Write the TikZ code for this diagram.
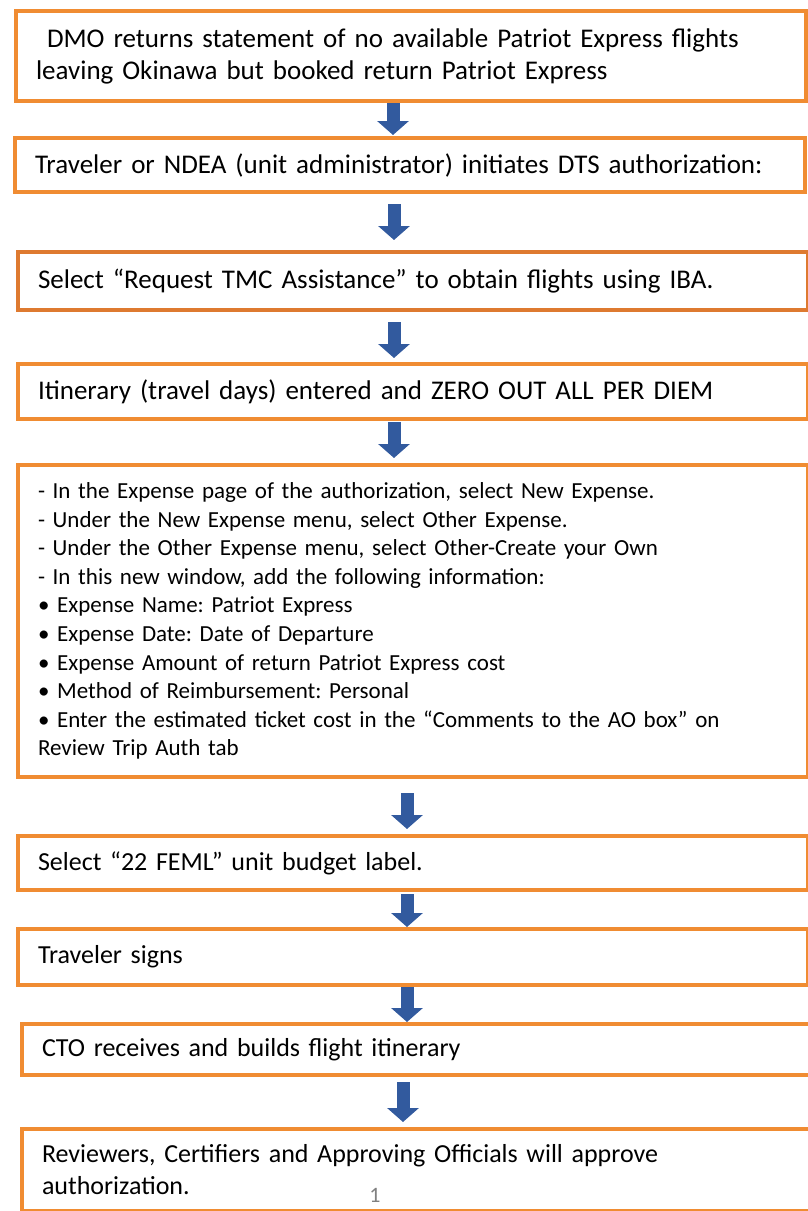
\documentclass[tikz,border=0pt]{standalone}
\usepackage{fontspec}
\setmainfont{Carlito}
\usetikzlibrary{arrows.meta}
\frenchspacing

\definecolor{boxorange}{RGB}{240,140,50}
\definecolor{darkorange}{RGB}{222,122,48}
\definecolor{arrowblue}{RGB}{50,90,158}

\begin{document}
\begin{tikzpicture}[
        x=1pt, y=-1pt,
        stepbox/.style={draw=boxorange, line width=4pt, rectangle, anchor=north west,
            inner xsep=20pt, inner ysep=0pt, text width=750pt, align=left,
            font=\fontsize{27}{32}\selectfont},
        listbox/.style={stepbox, font=\fontsize{23}{28.6}\selectfont},
        lowbox/.style={stepbox, font=\fontsize{26}{32}\selectfont},
        flowarrow/.style={draw=arrowblue, line width=13pt, -{Triangle[width=31pt, length=14pt]}}
    ]
        \useasboundingbox (0,0) rectangle (808,1211);

        % Steps
        \node[stepbox, minimum height=90pt] (dmo) at (14,9)
            {\hspace*{11pt}DMO returns statement of no available Patriot Express flights\\leaving Okinawa but booked return Patriot Express};
        \node[stepbox, minimum height=54pt] (initiate) at (13,136)
            {Traveler or NDEA (unit administrator) initiates DTS authorization:};
        \node[stepbox, draw=darkorange, minimum height=58pt] (tmc) at (16,250)
            {Select “Request TMC Assistance” to obtain flights using IBA.};
        \node[stepbox, minimum height=55pt] (itinerary) at (16,362)
            {Itinerary (travel days) entered and ZERO OUT ALL PER DIEM};
        \node[listbox, minimum height=312pt] (expense) at (16,463)
            {- In the Expense page of the authorization, select New Expense.\\
             - Under the New Expense menu, select Other Expense.\\
             - Under the Other Expense menu, select Other-Create your Own\\
             - In this new window, add the following information:\\
             • Expense Name: Patriot Express\\
             • Expense Date: Date of Departure\\
             • Expense Amount of return Patriot Express cost\\
             • Method of Reimbursement: Personal\\
             • Enter the estimated ticket cost in the “Comments to the AO box” on\\
             Review Trip Auth tab};
        \node[lowbox, minimum height=54pt] (budget) at (16,834)
            {Select “22 FEML” unit budget label.};
        \node[lowbox, minimum height=56pt] (signs) at (16,927)
            {Traveler signs};
        \node[lowbox, minimum height=51pt] (cto) at (20,1022)
            {CTO receives and builds flight itinerary};
        \node[lowbox, minimum height=82pt] (approve) at (20,1127)
            {Reviewers, Certifiers and Approving Officials will approve\\authorization.};
        \node[text=gray, font=\fontsize{22}{24}\selectfont] (pagenum) at (375,1195) {1};

        % Arrows between steps
        \foreach \from/\to/\ax/\s/\e in {dmo/initiate/393/0/1, initiate/tmc/394/10/10,
                tmc/itinerary/394/10/4, itinerary/expense/394/1/5, expense/budget/407/14/5,
                budget/signs/407/2/0, signs/cto/407/0/0, cto/approve/403/5/5} {
            \path (\ax,0) coordinate (ax);
            \draw[flowarrow, shorten <=\s pt, shorten >=\e pt]
                (\from.south -| ax) -- (\to.north -| ax);
        }
\end{tikzpicture}
\end{document}
